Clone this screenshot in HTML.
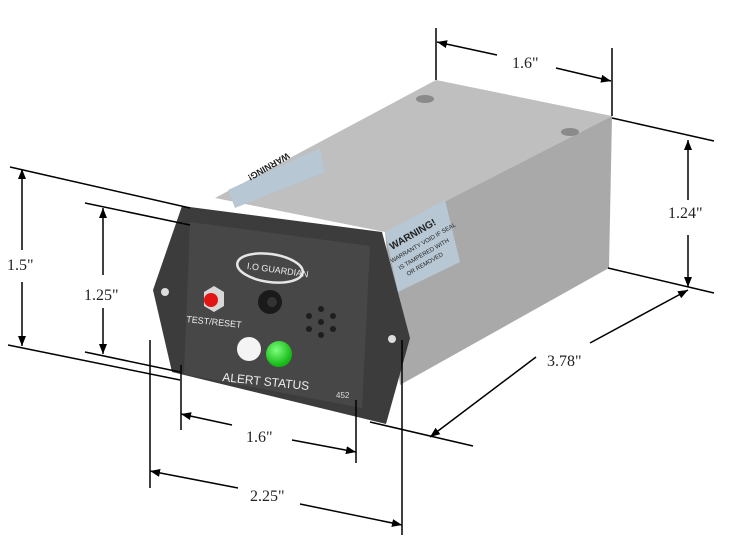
<!DOCTYPE html>
<html><head><style>
html,body{margin:0;padding:0;background:#fff;}
svg{display:block;}
.s{font-family:"Liberation Serif",serif;}
.n{font-family:"Liberation Sans",sans-serif;}
</style></head><body>
<svg width="743" height="541" viewBox="0 0 743 541" xmlns="http://www.w3.org/2000/svg">
<defs>
<marker id="a" markerWidth="10" markerHeight="8" refX="10" refY="4" orient="auto" markerUnits="userSpaceOnUse"><path d="M0,0 L10,4 L0,8 z" fill="#000"/></marker>
<radialGradient id="g" cx="0.4" cy="0.35" r="0.6"><stop offset="0" stop-color="#7dff7d"/><stop offset="1" stop-color="#14b814"/></radialGradient>
</defs>
<!-- box -->
<polygon points="436,80 612,116 385,232 215,198" fill="#bfbfbf"/>
<polygon points="612,116 609,268 400,385 385,232" fill="#a9a9a9"/>
<polygon points="385,232 445,200 460,262 398,292" fill="#b7c7d3"/>
<polygon points="228,190 320,148 325,172 235,208" fill="#b7c7d3"/>
<ellipse cx="425" cy="99" rx="9" ry="4" fill="#8a8a8a"/>
<ellipse cx="570" cy="132" rx="9" ry="4" fill="#8a8a8a"/>
<g class="n" fill="#222">
<text x="392" y="250" font-size="10" font-weight="bold" transform="rotate(-30 392 250)">WARNING!</text>
<text x="392" y="263" font-size="6" transform="rotate(-30 392 263)">WARRANTY VOID IF SEAL</text>
<text x="400" y="270" font-size="6" transform="rotate(-30 400 270)">IS TAMPERED WITH</text>
<text x="408" y="276" font-size="6" transform="rotate(-30 408 276)">OR REMOVED</text>
<text x="240" y="185" font-size="9" font-weight="bold" transform="rotate(150 268 175)">WARNING!</text>
</g>
<!-- faceplate -->
<polygon points="182,206 382,232 410,338 386,424 172,372 153,290" fill="#3c3c3c"/>
<polygon points="190,222 370,246 362,408 184,374" fill="#474747"/>
<circle cx="165" cy="292" r="4" fill="#ddd"/>
<circle cx="392" cy="339" r="4" fill="#ddd"/>
<ellipse cx="270" cy="268" rx="33" ry="14" fill="none" stroke="#e6e6e6" stroke-width="2.5" transform="rotate(8 270 268)"/>
<text class="n" x="247" y="272" font-size="9" fill="#eee" transform="rotate(8 270 268)">I.O GUARDIAN</text>
<polygon points="204,292 214,286 224,292 224,306 214,312 204,306" fill="#d8d8d8"/>
<circle cx="211" cy="300" r="7" fill="#e31414"/>
<circle cx="270" cy="302" r="12" fill="#1a1a1a"/>
<circle cx="272" cy="302" r="5" fill="#333"/>
<g fill="#1e1e1e">
<circle cx="321" cy="322" r="3"/><circle cx="321" cy="309" r="3"/><circle cx="321" cy="335" r="3"/>
<circle cx="309" cy="316" r="3"/><circle cx="333" cy="316" r="3"/><circle cx="309" cy="329" r="3"/><circle cx="333" cy="329" r="3"/>
</g>
<text class="n" x="186" y="322" font-size="9" fill="#eee" transform="rotate(6 186 322)">TEST/RESET</text>
<circle cx="249" cy="349" r="12" fill="#f4f4f4"/>
<circle cx="279" cy="354" r="13" fill="url(#g)"/>
<text class="n" x="222" y="381" font-size="12" fill="#eee" transform="rotate(6 222 381)">ALERT  STATUS</text>
<text class="n" x="336" y="398" font-size="8" fill="#ddd">452</text>
<!-- dimensions -->
<g stroke="#000" stroke-width="1.5" fill="none">
<line x1="10" y1="167" x2="190" y2="208"/>
<line x1="8" y1="345" x2="180" y2="380"/>
<line x1="85" y1="203" x2="190" y2="225"/>
<line x1="85" y1="352" x2="180" y2="372"/>
<line x1="22" y1="250" x2="22" y2="169" marker-end="url(#a)"/>
<line x1="22" y1="282" x2="22" y2="346" marker-end="url(#a)"/>
<line x1="103" y1="275" x2="103" y2="208" marker-end="url(#a)"/>
<line x1="103" y1="308" x2="103" y2="354" marker-end="url(#a)"/>
<line x1="181" y1="365" x2="181" y2="430"/>
<line x1="356" y1="400" x2="356" y2="463"/>
<line x1="232" y1="425" x2="181" y2="414" marker-end="url(#a)"/>
<line x1="292" y1="440" x2="356" y2="452" marker-end="url(#a)"/>
<line x1="150" y1="340" x2="150" y2="488"/>
<line x1="402" y1="340" x2="402" y2="535"/>
<line x1="238" y1="488" x2="150" y2="471" marker-end="url(#a)"/>
<line x1="300" y1="504" x2="402" y2="525" marker-end="url(#a)"/>
<line x1="370" y1="422" x2="473" y2="446"/>
<line x1="536" y1="357" x2="430" y2="437" marker-end="url(#a)"/>
<line x1="590" y1="343" x2="688" y2="290" marker-end="url(#a)"/>
<line x1="612" y1="118" x2="714" y2="141"/>
<line x1="608" y1="268" x2="714" y2="293"/>
<line x1="688" y1="200" x2="688" y2="140" marker-end="url(#a)"/>
<line x1="688" y1="235" x2="688" y2="287" marker-end="url(#a)"/>
<line x1="436" y1="28" x2="436" y2="80"/>
<line x1="612" y1="48" x2="612" y2="116"/>
<line x1="497" y1="55" x2="437" y2="42" marker-end="url(#a)"/>
<line x1="556" y1="68" x2="611" y2="81" marker-end="url(#a)"/>
</g>
<g class="s" font-size="16" fill="#222">
<text x="7" y="270">1.5"</text>
<text x="84" y="300">1.25"</text>
<text x="246" y="442">1.6"</text>
<text x="250" y="501">2.25"</text>
<text x="547" y="366">3.78"</text>
<text x="668" y="218">1.24"</text>
<text x="512" y="68">1.6"</text>
</g>
</svg>
</body></html>
